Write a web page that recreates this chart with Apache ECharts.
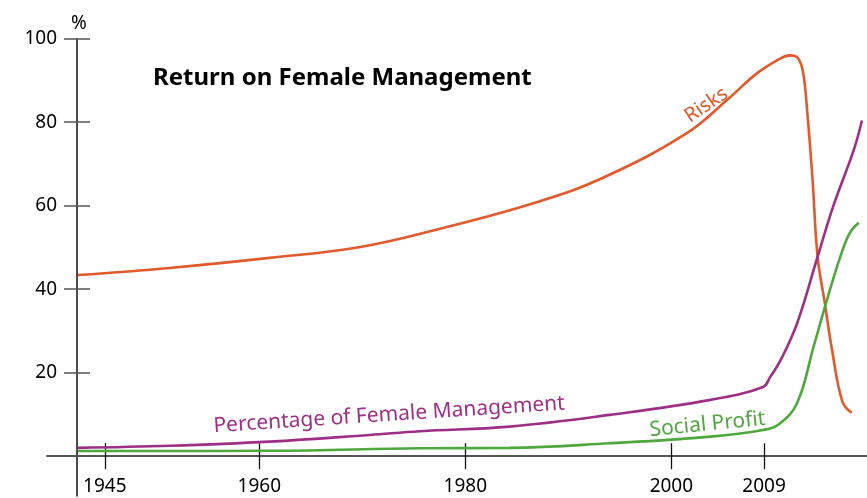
<!DOCTYPE html>
<html>
<head>
<meta charset="utf-8">
<script src="https://cdn.jsdelivr.net/npm/echarts@6/dist/echarts.min.js"></script>
<style>html,body{margin:0;padding:0;background:#fff}#c{width:867px;height:498px}</style>
</head>
<body>
<div id="c"></div>
<script>
// ---- data ----
const xTicks = [1945, 1960, 1980, 2000, 2009];
const yTicks = [20, 40, 60, 80, 100];

const riskYears  = [1942.4, 1951.3, 1961.0, 1969.8, 1978.2, 1986.6, 1993.1, 2001.5, 2005.7, 2008.3, 2010.6, 2011.5, 2012.3, 2012.8, 2013.2, 2013.7, 2014.2, 2014.9, 2015.6, 2016.6, 2017.5];
const riskValues = [43.4, 45.1, 47.5, 50.1, 54.9, 60.6, 66.4, 77.4, 86.0, 91.7, 95.3, 96.0, 95.3, 91.7, 82.2, 66.4, 47.7, 36.6, 25.4, 13.1, 10.4];

const femYears  = [1942.4, 1951.3, 1961.0, 1970.7, 1975.6, 1984.3, 1994.0, 2003.8, 2008.9, 2009.6, 2010.6, 2012.2, 2014.1, 2015.7, 2017.7, 2018.5];
const femValues = [2.0, 2.5, 3.5, 5.1, 6.0, 7.1, 9.9, 13.5, 16.6, 19.0, 23.0, 31.8, 47.0, 59.8, 73.3, 80.4];

const socYears  = [1942.4, 1961.0, 1975.6, 1984.3, 1994.0, 2003.8, 2008.9, 2010.4, 2012.2, 2013.8, 2015.1, 2016.4, 2017.3, 2018.2];
const socValues = [1.25, 1.3, 1.9, 2.0, 3.1, 4.7, 6.3, 7.6, 12.7, 26.2, 37.4, 47.8, 53.4, 55.9];

const seriesNames = ['Risks', 'Percentage of Female Management', 'Social Profit'];
const titleText = 'Return on Female Management';

// ---- chart ----
const pairs = (xs, ys) => xs.map((x, i) => [x, ys[i]]);
const FONT = 'Noto Sans';
const X_MIN = 1939.39, X_MAX = 2018.99, Y_MIN = -9.5, Y_MAX = 100;
const gridBox = {left: 47, right: 0, top: 38.7, bottom: 2.1};
const COLORS = ['#e2592b', '#9e2f86', '#4ea83d'];

function markLabel(coord, text, color, rotate, size) {
  return {
    symbol: 'circle', symbolSize: 1, silent: true,
    itemStyle: {color: 'rgba(0,0,0,0)'},
    label: {show: true, position: 'inside', formatter: text, color: color, rotate: rotate,
            fontFamily: FONT, fontSize: size},
    data: [{coord: coord}]
  };
}

const chart = echarts.init(document.getElementById('c'), null, {renderer: 'canvas'});
chart.setOption({
  animation: false,
  backgroundColor: '#fff',
  title: {text: titleText, left: 148, top: 61,
          textStyle: {fontFamily: FONT, fontWeight: 'bold', fontSize: 24, color: '#000'}},
  grid: [Object.assign({}, gridBox), Object.assign({}, gridBox)],
  xAxis: [
    {type: 'value', gridIndex: 0, min: X_MIN, max: X_MAX, position: 'bottom', offset: -37.4,
     axisLine: {show: true, lineStyle: {color: '#555', width: 1.8}},
     axisTick: {show: true, customValues: xTicks, length: 13, lineStyle: {color: '#111', width: 1.3}},
     axisLabel: {show: true, customValues: xTicks, margin: 19, color: '#000', fontFamily: FONT, fontSize: 19,
                 formatter: v => String(v)},
     splitLine: {show: false}},
    {type: 'value', gridIndex: 1, min: X_MIN, max: X_MAX, position: 'bottom', offset: -37.4,
     axisLine: {show: false},
     axisTick: {show: true, inside: true, customValues: xTicks, length: 13, lineStyle: {color: '#111', width: 1.3}},
     axisLabel: {show: false}, splitLine: {show: false}}
  ],
  yAxis: [
    {type: 'value', gridIndex: 0, min: Y_MIN, max: Y_MAX, position: 'left', offset: -30,
     name: '%', nameLocation: 'end', nameGap: 6,
     nameTextStyle: {color: '#000', fontFamily: FONT, fontSize: 19, padding: [0, 0, 0, 4]},
     axisLine: {show: true, lineStyle: {color: '#111', width: 1.5}},
     axisTick: {show: true, customValues: yTicks, length: 13, lineStyle: {color: '#555', width: 1.5}},
     axisLabel: {show: true, customValues: yTicks, margin: 20, color: '#000', fontFamily: FONT, fontSize: 19,
                 formatter: v => String(v)},
     splitLine: {show: false}},
    {type: 'value', gridIndex: 1, min: Y_MIN, max: Y_MAX, position: 'left', offset: -30,
     axisLine: {show: false},
     axisTick: {show: true, inside: true, customValues: yTicks, length: 13, lineStyle: {color: '#555', width: 1.5}},
     axisLabel: {show: false}, splitLine: {show: false}}
  ],
  series: [
    {name: seriesNames[0], type: 'line', xAxisIndex: 0, yAxisIndex: 0, data: pairs(riskYears, riskValues),
     smooth: 0.4, showSymbol: false, symbol: 'none',
     lineStyle: {color: COLORS[0], width: 2.6}, itemStyle: {color: COLORS[0]},
     markPoint: markLabel([2003.4, 84.1], seriesNames[0], COLORS[0], 34, 20)},
    {name: seriesNames[1], type: 'line', xAxisIndex: 0, yAxisIndex: 0, data: pairs(femYears, femValues),
     smooth: 0.4, showSymbol: false, symbol: 'none',
     lineStyle: {color: COLORS[1], width: 2.6}, itemStyle: {color: COLORS[1]},
     markPoint: markLabel([1972.6, 9.9], seriesNames[1], COLORS[1], 3.7, 21)},
    {name: seriesNames[2], type: 'line', xAxisIndex: 0, yAxisIndex: 0, data: pairs(socYears, socValues),
     smooth: 0.4, showSymbol: false, symbol: 'none',
     lineStyle: {color: COLORS[2], width: 2.6}, itemStyle: {color: COLORS[2]},
     markPoint: markLabel([2003.5, 7.6], seriesNames[2], COLORS[2], 5.7, 21)}
  ]
});
</script>
</body>
</html>
